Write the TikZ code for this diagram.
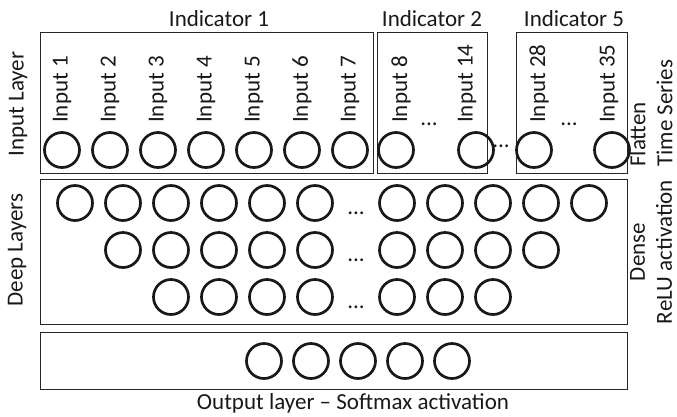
\documentclass[tikz,border=0pt]{standalone}
\usepackage{fontspec}
\setmainfont{Carlito}
\begin{document}
\begin{tikzpicture}[x=1pt,y=-1pt,
  lbl/.style={font=\fontsize{23}{27}\selectfont, inner sep=0pt, text=black!90},
  neuron/.style={circle, draw=black!90, line width=2.7pt, minimum size=35pt, inner sep=0pt},
  layerbox/.style={draw=black!85, line width=1.4pt, inner sep=0pt, anchor=north west},
  dotsnode/.style={font=\fontsize{23}{27}\selectfont, inner sep=0pt, anchor=base, text=black!90}]
\useasboundingbox (0,0) rectangle (677,416);

% boxes
\node[layerbox, minimum width=333pt, minimum height=141pt] (ind1) at (40,32) {};
\node[layerbox, minimum width=110pt, minimum height=141pt] (ind2) at (377,32) {};
\node[layerbox, minimum width=111pt, minimum height=141pt] (ind5) at (516,32) {};
\node[layerbox, minimum width=587pt, minimum height=145pt] (deep) at (40,179) {};
\node[layerbox, minimum width=587pt, minimum height=57pt] (outbox) at (40,332) {};

% headings
\node[lbl] (h1) at (219,19) {Indicator 1};
\node[lbl] (h2) at (432,19) {Indicator 2};
\node[lbl] (h5) at (574,19) {Indicator 5};

% side labels
\node[lbl, rotate=90] (inlayer) at (18,104) {Input Layer};
\node[lbl, rotate=90] (deeplayers) at (17,250) {Deep Layers};
\node[lbl, rotate=90, align=left, anchor=west] (flat) at (651,167) {Flatten\\Time Series};
\node[lbl, rotate=90, align=center] (dense) at (651,252) {Dense\\ReLU activation};
\node[lbl] (outlbl) at (353,403) {Output layer -- Softmax activation};

% input layer
\foreach \k/\x in {1/62,2/110,3/158,4/206,5/254,6/302,7/350} {
  \node[neuron] (in\k) at (\x,150) {};
  \node[lbl, rotate=90, anchor=west] (lin\k) at (\x,123) {Input \k};
}
\node[neuron] (in8) at (396,150) {};
\node[lbl, rotate=90, anchor=west] (lin8) at (401,123) {Input 8};
\node[neuron] (in14) at (476,150) {};
\node[lbl, rotate=90, anchor=west] (lin14) at (467,123) {Input 14};
\node[neuron] (in28) at (534,150) {};
\node[lbl, rotate=90, anchor=west] (lin28) at (539,123) {Input 28};
\node[neuron] (in35) at (612,150) {};
\node[lbl, rotate=90, anchor=west] (lin35) at (609,123) {Input 35};
\node[dotsnode] (dA) at (429,125) {...};
\node[dotsnode] (dB) at (501,147) {...};
\node[dotsnode] (dC) at (569,125) {...};

% deep layers
\foreach \x [count=\i] in {75,123,171,219,267,315,397,445,493,541,589}
  \node[neuron] (da\i) at (\x,203) {};
\foreach \x [count=\i] in {123,171,219,267,315,397,445,493,541}
  \node[neuron] (db\i) at (\x,250) {};
\foreach \x [count=\i] in {171,219,267,315,397,445,493}
  \node[neuron] (dc\i) at (\x,297) {};
\node[dotsnode] (dd1) at (356,214) {...};
\node[dotsnode] (dd2) at (356,261) {...};
\node[dotsnode] (dd3) at (356,308) {...};

% output layer
\foreach \x [count=\i] in {264,311,358,405,452}
  \node[neuron] (o\i) at (\x,361) {};
\end{tikzpicture}
\end{document}
